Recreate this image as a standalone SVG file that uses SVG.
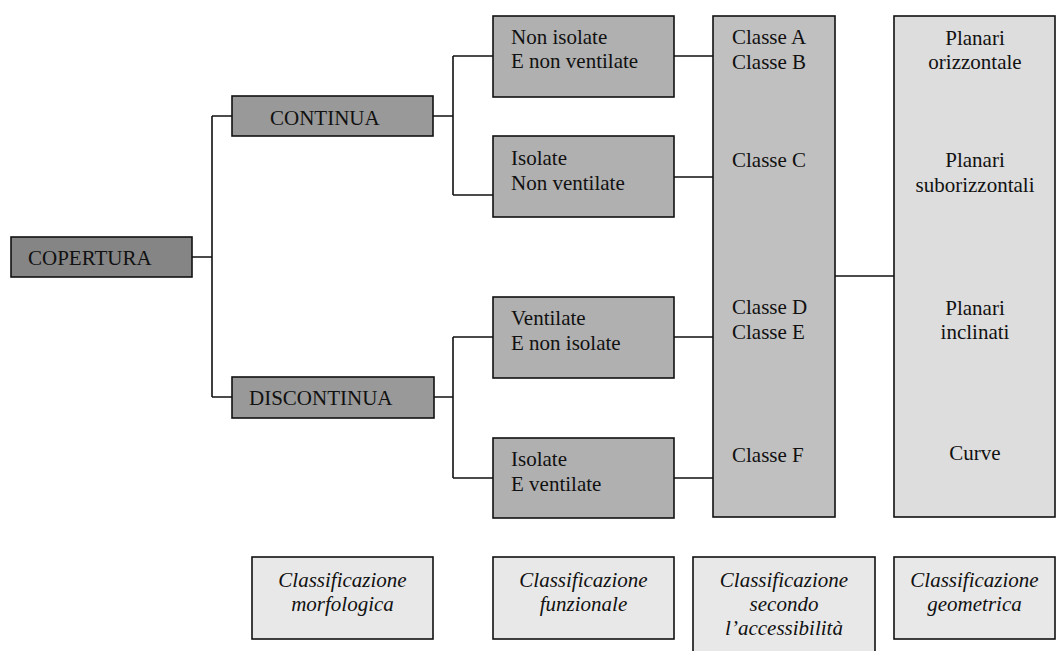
<svg xmlns="http://www.w3.org/2000/svg" width="1064" height="651" viewBox="0 0 1064 651" font-family="Liberation Serif, Tinos, Times New Roman, DejaVu Serif, serif">
<style>
text{font-family:'Liberation Serif',Tinos,'Times New Roman','DejaVu Serif',serif;font-size:21px;fill:#111}
.b{stroke:#111;stroke-width:1.6}
.l1{fill:#858585}
.l2{fill:#999999}
.l3{fill:#b0b0b0}
.l4{fill:#c0c0c0}
.l5{fill:#dddddd}
.cap{fill:#e8e8e8}
.it{font-style:italic;text-anchor:middle}
.mid{text-anchor:middle}
.c{fill:none;stroke:#111;stroke-width:1.6}
</style>
<rect width="1064" height="651" fill="#ffffff"/>
<g id="connectors">
<path class="c" d="M192,257H212M212,116V397M212,116H232M212,397H232"/>
<path class="c" d="M433,116H453M453,56V195M453,56H493M453,195H493"/>
<path class="c" d="M434,397H453M453,337V478M453,337H493M453,478H493"/>
<path class="c" d="M674,56H713M674,177H713M674,337H713M674,478H713"/>
<path class="c" d="M835,276H894"/>
</g>
<g id="copertura"><rect class="b l1" x="11" y="237" width="181" height="40" stroke-width="2"/><text x="28" y="265">COPERTURA</text></g>
<g id="continua"><rect class="b l2" x="232" y="96" width="201" height="40"/><text x="270" y="125">CONTINUA</text></g>
<g id="discontinua"><rect class="b l2" x="232" y="377" width="202" height="41"/><text x="249" y="405">DISCONTINUA</text></g>
<g id="non-isolate"><rect class="b l3" x="493" y="16" width="181" height="81"/><text x="511" y="44">Non isolate</text><text x="511" y="68">E non ventilate</text></g>
<g id="isolate-non-ventilate"><rect class="b l3" x="493" y="136" width="181" height="81"/><text x="511" y="165">Isolate</text><text x="511" y="190">Non ventilate</text></g>
<g id="ventilate"><rect class="b l3" x="493" y="297" width="181" height="81"/><text x="511" y="325">Ventilate</text><text x="511" y="350">E non isolate</text></g>
<g id="isolate-ventilate"><rect class="b l3" x="493" y="438" width="181" height="80"/><text x="511" y="466">Isolate</text><text x="511" y="491">E ventilate</text></g>
<g id="classi"><rect class="b l4" x="713" y="16" width="122" height="501"/>
<text x="732" y="44">Classe A</text><text x="732" y="69">Classe B</text>
<text x="732" y="167">Classe C</text>
<text x="732" y="314">Classe D</text><text x="732" y="339">Classe E</text>
<text x="732" y="462">Classe F</text></g>
<g id="geometria"><rect class="b l5" x="894" y="16" width="161" height="501"/>
<text class="mid" x="975" y="45">Planari</text><text class="mid" x="975" y="69">orizzontale</text>
<text class="mid" x="975" y="167">Planari</text><text class="mid" x="975" y="192">suborizzontali</text>
<text class="mid" x="975" y="315">Planari</text><text class="mid" x="975" y="339">inclinati</text>
<text class="mid" x="975" y="460">Curve</text></g>
<g id="cap-morfologica"><rect class="b cap" x="252" y="557" width="181" height="82"/><text class="it" x="342.5" y="587">Classificazione</text><text class="it" x="342.5" y="611">morfologica</text></g>
<g id="cap-funzionale"><rect class="b cap" x="493" y="557" width="181" height="82"/><text class="it" x="583.5" y="587">Classificazione</text><text class="it" x="583.5" y="611">funzionale</text></g>
<g id="cap-accessibilita"><rect class="b cap" x="693" y="557" width="182" height="100"/><text class="it" x="784" y="587">Classificazione</text><text class="it" x="784" y="611">secondo</text><text class="it" x="784" y="635">l’accessibilità</text></g>
<g id="cap-geometrica"><rect class="b cap" x="894" y="557" width="161" height="82"/><text class="it" x="974.5" y="587">Classificazione</text><text class="it" x="974.5" y="611">geometrica</text></g>
</svg>
